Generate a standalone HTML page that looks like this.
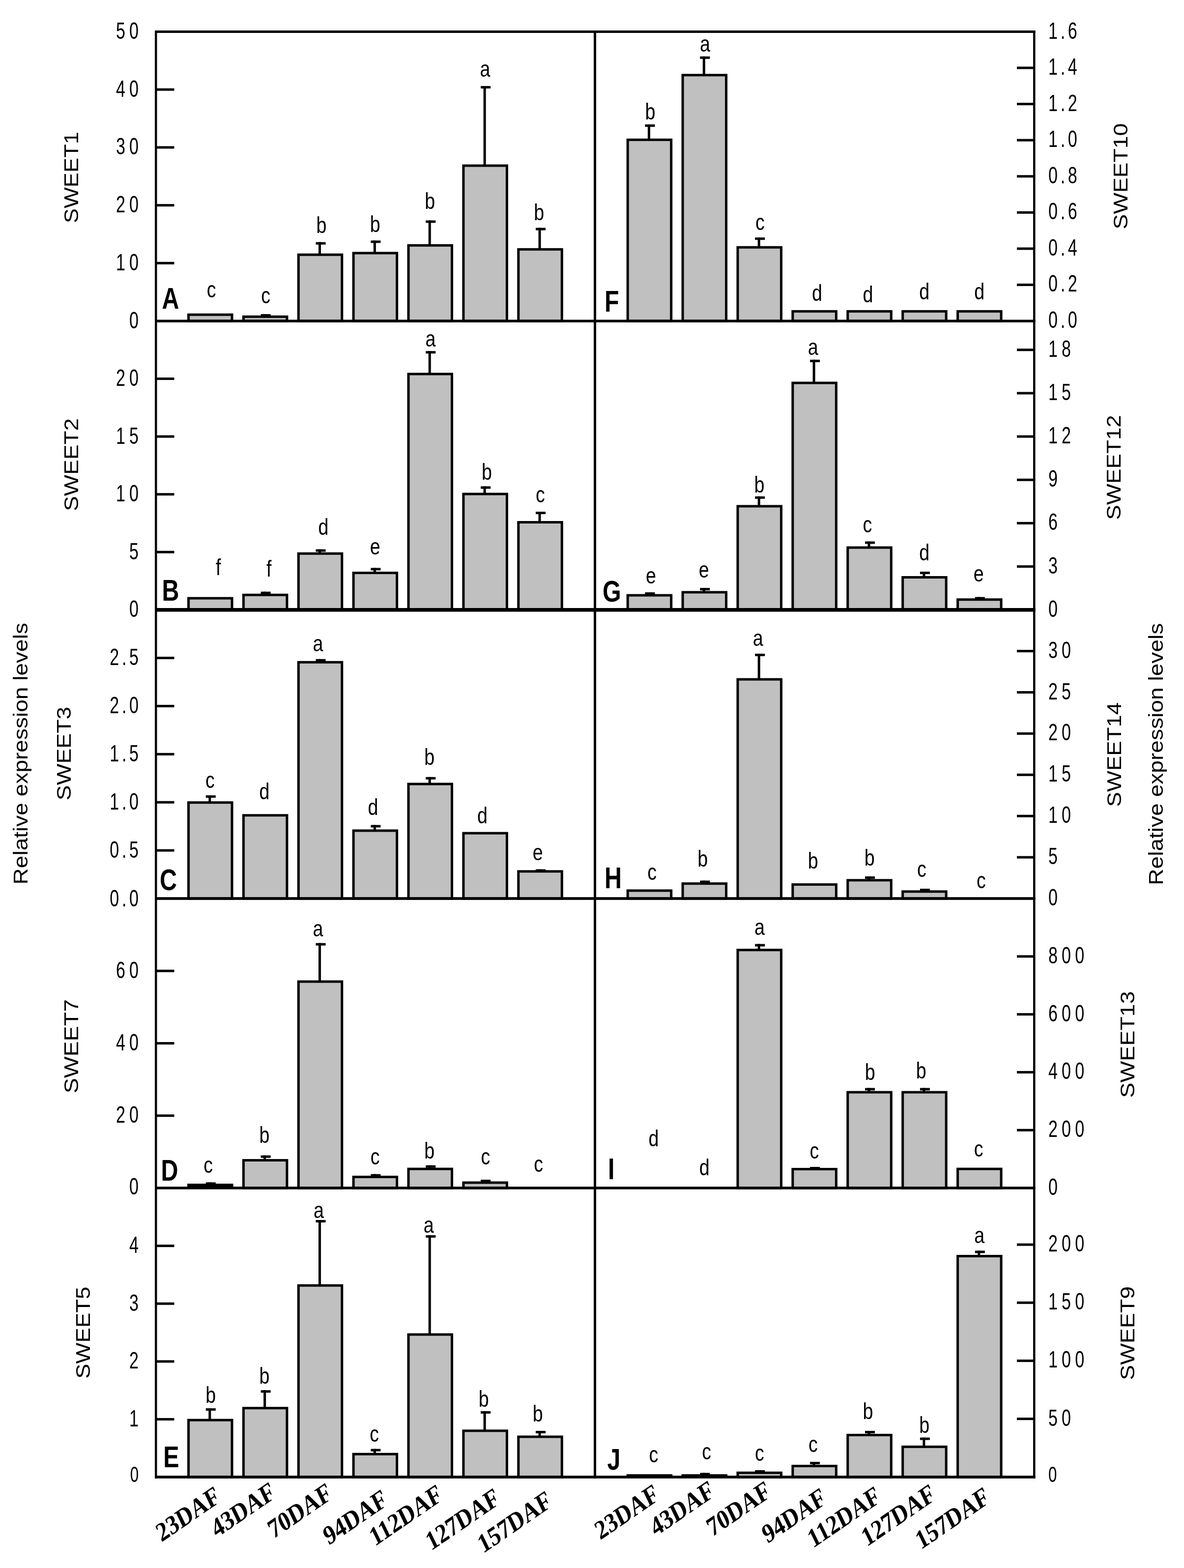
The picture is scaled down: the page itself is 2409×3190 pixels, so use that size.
<!DOCTYPE html>
<html><head><meta charset="utf-8"><title>SWEET expression</title>
<style>html,body{margin:0;padding:0;background:#fff;}svg{display:block;}</style>
</head><body>
<svg width="2409" height="3190" viewBox="0 0 2409 3190">
<rect width="100%" height="100%" fill="#fff"/>
<rect x="383.55" y="640.2" width="88.5" height="12.8" fill="#c0c0c0" stroke="#000" stroke-width="5"/>
<rect x="495.42" y="644.3" width="88.5" height="8.7" fill="#c0c0c0" stroke="#000" stroke-width="5"/>
<rect x="536.17" y="639" width="5" height="3.8" fill="#000"/>
<rect x="530.67" y="639" width="20" height="5" fill="#000"/>
<rect x="607.29" y="518.2" width="88.5" height="134.8" fill="#c0c0c0" stroke="#000" stroke-width="5"/>
<rect x="648.04" y="492.6" width="5" height="24.1" fill="#000"/>
<rect x="642.54" y="492.6" width="20" height="5" fill="#000"/>
<rect x="719.16" y="514.9" width="88.5" height="138.1" fill="#c0c0c0" stroke="#000" stroke-width="5"/>
<rect x="759.91" y="489.3" width="5" height="24.1" fill="#000"/>
<rect x="754.41" y="489.3" width="20" height="5" fill="#000"/>
<rect x="831.03" y="499.2" width="88.5" height="153.8" fill="#c0c0c0" stroke="#000" stroke-width="5"/>
<rect x="871.78" y="448.4" width="5" height="49.3" fill="#000"/>
<rect x="866.28" y="448.4" width="20" height="5" fill="#000"/>
<rect x="942.9" y="337" width="88.5" height="316" fill="#c0c0c0" stroke="#000" stroke-width="5"/>
<rect x="983.65" y="175" width="5" height="160.5" fill="#000"/>
<rect x="978.15" y="175" width="20" height="5" fill="#000"/>
<rect x="1054.77" y="507.3" width="88.5" height="145.7" fill="#c0c0c0" stroke="#000" stroke-width="5"/>
<rect x="1095.52" y="463.5" width="5" height="42.3" fill="#000"/>
<rect x="1090.02" y="463.5" width="20" height="5" fill="#000"/>
<rect x="383.55" y="1217.1" width="88.5" height="23.6" fill="#c0c0c0" stroke="#000" stroke-width="5"/>
<rect x="495.42" y="1210.3" width="88.5" height="30.4" fill="#c0c0c0" stroke="#000" stroke-width="5"/>
<rect x="536.17" y="1203.7" width="5" height="5.1" fill="#000"/>
<rect x="530.67" y="1203.7" width="20" height="5" fill="#000"/>
<rect x="607.29" y="1126.2" width="88.5" height="114.5" fill="#c0c0c0" stroke="#000" stroke-width="5"/>
<rect x="648.04" y="1117.5" width="5" height="7.2" fill="#000"/>
<rect x="642.54" y="1117.5" width="20" height="5" fill="#000"/>
<rect x="719.16" y="1165.5" width="88.5" height="75.2" fill="#c0c0c0" stroke="#000" stroke-width="5"/>
<rect x="759.91" y="1155.4" width="5" height="8.6" fill="#000"/>
<rect x="754.41" y="1155.4" width="20" height="5" fill="#000"/>
<rect x="831.03" y="760.9" width="88.5" height="479.8" fill="#c0c0c0" stroke="#000" stroke-width="5"/>
<rect x="871.78" y="714.2" width="5" height="45.2" fill="#000"/>
<rect x="866.28" y="714.2" width="20" height="5" fill="#000"/>
<rect x="942.9" y="1005" width="88.5" height="235.7" fill="#c0c0c0" stroke="#000" stroke-width="5"/>
<rect x="983.65" y="989.4" width="5" height="14.1" fill="#000"/>
<rect x="978.15" y="989.4" width="20" height="5" fill="#000"/>
<rect x="1054.77" y="1062.5" width="88.5" height="178.2" fill="#c0c0c0" stroke="#000" stroke-width="5"/>
<rect x="1095.52" y="1041" width="5" height="20" fill="#000"/>
<rect x="1090.02" y="1041" width="20" height="5" fill="#000"/>
<rect x="383.55" y="1632.7" width="88.5" height="195.3" fill="#c0c0c0" stroke="#000" stroke-width="5"/>
<rect x="424.3" y="1618" width="5" height="13.2" fill="#000"/>
<rect x="418.8" y="1618" width="20" height="5" fill="#000"/>
<rect x="495.42" y="1658.7" width="88.5" height="169.3" fill="#c0c0c0" stroke="#000" stroke-width="5"/>
<rect x="607.29" y="1347.3" width="88.5" height="480.7" fill="#c0c0c0" stroke="#000" stroke-width="5"/>
<rect x="648.04" y="1340.8" width="5" height="5" fill="#000"/>
<rect x="642.54" y="1340.8" width="20" height="5" fill="#000"/>
<rect x="719.16" y="1689.9" width="88.5" height="138.1" fill="#c0c0c0" stroke="#000" stroke-width="5"/>
<rect x="759.91" y="1678.4" width="5" height="10" fill="#000"/>
<rect x="754.41" y="1678.4" width="20" height="5" fill="#000"/>
<rect x="831.03" y="1595" width="88.5" height="233" fill="#c0c0c0" stroke="#000" stroke-width="5"/>
<rect x="871.78" y="1580.8" width="5" height="12.7" fill="#000"/>
<rect x="866.28" y="1580.8" width="20" height="5" fill="#000"/>
<rect x="942.9" y="1695.1" width="88.5" height="132.9" fill="#c0c0c0" stroke="#000" stroke-width="5"/>
<rect x="1054.77" y="1772.8" width="88.5" height="55.2" fill="#c0c0c0" stroke="#000" stroke-width="5"/>
<rect x="1095.52" y="1768.5" width="5" height="2.8" fill="#000"/>
<rect x="1090.02" y="1768.5" width="20" height="5" fill="#000"/>
<rect x="381.05" y="2408.1" width="93.5" height="10.9" fill="#000"/>
<rect x="424.3" y="2405.4" width="5" height="3.7" fill="#000"/>
<rect x="418.8" y="2405.4" width="20" height="5" fill="#000"/>
<rect x="495.42" y="2360.5" width="88.5" height="56.5" fill="#c0c0c0" stroke="#000" stroke-width="5"/>
<rect x="536.17" y="2350.6" width="5" height="8.4" fill="#000"/>
<rect x="530.67" y="2350.6" width="20" height="5" fill="#000"/>
<rect x="607.29" y="1997" width="88.5" height="420" fill="#c0c0c0" stroke="#000" stroke-width="5"/>
<rect x="648.04" y="1918.6" width="5" height="76.9" fill="#000"/>
<rect x="642.54" y="1918.6" width="20" height="5" fill="#000"/>
<rect x="719.16" y="2394.4" width="88.5" height="22.6" fill="#c0c0c0" stroke="#000" stroke-width="5"/>
<rect x="759.91" y="2388.6" width="5" height="4.3" fill="#000"/>
<rect x="754.41" y="2388.6" width="20" height="5" fill="#000"/>
<rect x="831.03" y="2378.1" width="88.5" height="38.9" fill="#c0c0c0" stroke="#000" stroke-width="5"/>
<rect x="871.78" y="2370.7" width="5" height="5.9" fill="#000"/>
<rect x="866.28" y="2370.7" width="20" height="5" fill="#000"/>
<rect x="942.9" y="2406" width="88.5" height="11" fill="#c0c0c0" stroke="#000" stroke-width="5"/>
<rect x="983.65" y="2400" width="5" height="4.5" fill="#000"/>
<rect x="978.15" y="2400" width="20" height="5" fill="#000"/>
<rect x="383.55" y="2889.1" width="88.5" height="115.9" fill="#c0c0c0" stroke="#000" stroke-width="5"/>
<rect x="424.3" y="2865" width="5" height="22.6" fill="#000"/>
<rect x="418.8" y="2865" width="20" height="5" fill="#000"/>
<rect x="495.42" y="2864.7" width="88.5" height="140.3" fill="#c0c0c0" stroke="#000" stroke-width="5"/>
<rect x="536.17" y="2828.3" width="5" height="34.9" fill="#000"/>
<rect x="530.67" y="2828.3" width="20" height="5" fill="#000"/>
<rect x="607.29" y="2615.2" width="88.5" height="389.8" fill="#c0c0c0" stroke="#000" stroke-width="5"/>
<rect x="648.04" y="2482" width="5" height="131.7" fill="#000"/>
<rect x="642.54" y="2482" width="20" height="5" fill="#000"/>
<rect x="719.16" y="2958.3" width="88.5" height="46.7" fill="#c0c0c0" stroke="#000" stroke-width="5"/>
<rect x="759.91" y="2947.7" width="5" height="9.1" fill="#000"/>
<rect x="754.41" y="2947.7" width="20" height="5" fill="#000"/>
<rect x="831.03" y="2715" width="88.5" height="290" fill="#c0c0c0" stroke="#000" stroke-width="5"/>
<rect x="871.78" y="2512.9" width="5" height="200.6" fill="#000"/>
<rect x="866.28" y="2512.9" width="20" height="5" fill="#000"/>
<rect x="942.9" y="2910.8" width="88.5" height="94.2" fill="#c0c0c0" stroke="#000" stroke-width="5"/>
<rect x="983.65" y="2870.9" width="5" height="38.4" fill="#000"/>
<rect x="978.15" y="2870.9" width="20" height="5" fill="#000"/>
<rect x="1054.77" y="2923" width="88.5" height="82" fill="#c0c0c0" stroke="#000" stroke-width="5"/>
<rect x="1095.52" y="2911" width="5" height="10.5" fill="#000"/>
<rect x="1090.02" y="2911" width="20" height="5" fill="#000"/>
<rect x="1277.15" y="284.4" width="88.5" height="368.6" fill="#c0c0c0" stroke="#000" stroke-width="5"/>
<rect x="1317.9" y="253.1" width="5" height="29.8" fill="#000"/>
<rect x="1312.4" y="253.1" width="20" height="5" fill="#000"/>
<rect x="1389.05" y="152.8" width="88.5" height="500.2" fill="#c0c0c0" stroke="#000" stroke-width="5"/>
<rect x="1429.8" y="114.8" width="5" height="36.5" fill="#000"/>
<rect x="1424.3" y="114.8" width="20" height="5" fill="#000"/>
<rect x="1500.95" y="503.2" width="88.5" height="149.8" fill="#c0c0c0" stroke="#000" stroke-width="5"/>
<rect x="1541.7" y="483.1" width="5" height="18.6" fill="#000"/>
<rect x="1536.2" y="483.1" width="20" height="5" fill="#000"/>
<rect x="1612.85" y="633.4" width="88.5" height="19.6" fill="#c0c0c0" stroke="#000" stroke-width="5"/>
<rect x="1724.75" y="633.4" width="88.5" height="19.6" fill="#c0c0c0" stroke="#000" stroke-width="5"/>
<rect x="1836.65" y="633.4" width="88.5" height="19.6" fill="#c0c0c0" stroke="#000" stroke-width="5"/>
<rect x="1948.55" y="633.4" width="88.5" height="19.6" fill="#c0c0c0" stroke="#000" stroke-width="5"/>
<rect x="1277.15" y="1211.1" width="88.5" height="29.6" fill="#c0c0c0" stroke="#000" stroke-width="5"/>
<rect x="1317.9" y="1205" width="5" height="4.6" fill="#000"/>
<rect x="1312.4" y="1205" width="20" height="5" fill="#000"/>
<rect x="1389.05" y="1204.9" width="88.5" height="35.8" fill="#c0c0c0" stroke="#000" stroke-width="5"/>
<rect x="1429.8" y="1196.1" width="5" height="7.3" fill="#000"/>
<rect x="1424.3" y="1196.1" width="20" height="5" fill="#000"/>
<rect x="1500.95" y="1029.9" width="88.5" height="210.8" fill="#c0c0c0" stroke="#000" stroke-width="5"/>
<rect x="1541.7" y="1009.8" width="5" height="18.6" fill="#000"/>
<rect x="1536.2" y="1009.8" width="20" height="5" fill="#000"/>
<rect x="1612.85" y="779" width="88.5" height="461.7" fill="#c0c0c0" stroke="#000" stroke-width="5"/>
<rect x="1653.6" y="731.8" width="5" height="45.7" fill="#000"/>
<rect x="1648.1" y="731.8" width="20" height="5" fill="#000"/>
<rect x="1724.75" y="1114" width="88.5" height="126.7" fill="#c0c0c0" stroke="#000" stroke-width="5"/>
<rect x="1765.5" y="1101.5" width="5" height="11" fill="#000"/>
<rect x="1760" y="1101.5" width="20" height="5" fill="#000"/>
<rect x="1836.65" y="1174.5" width="88.5" height="66.2" fill="#c0c0c0" stroke="#000" stroke-width="5"/>
<rect x="1877.4" y="1163" width="5" height="10" fill="#000"/>
<rect x="1871.9" y="1163" width="20" height="5" fill="#000"/>
<rect x="1948.55" y="1219.8" width="88.5" height="20.9" fill="#c0c0c0" stroke="#000" stroke-width="5"/>
<rect x="1989.3" y="1214.6" width="5" height="3.7" fill="#000"/>
<rect x="1983.8" y="1214.6" width="20" height="5" fill="#000"/>
<rect x="1277.15" y="1811.9" width="88.5" height="16.1" fill="#c0c0c0" stroke="#000" stroke-width="5"/>
<rect x="1389.05" y="1797.6" width="88.5" height="30.4" fill="#c0c0c0" stroke="#000" stroke-width="5"/>
<rect x="1429.8" y="1791.5" width="5" height="4.6" fill="#000"/>
<rect x="1424.3" y="1791.5" width="20" height="5" fill="#000"/>
<rect x="1500.95" y="1382.1" width="88.5" height="445.9" fill="#c0c0c0" stroke="#000" stroke-width="5"/>
<rect x="1541.7" y="1329.9" width="5" height="50.7" fill="#000"/>
<rect x="1536.2" y="1329.9" width="20" height="5" fill="#000"/>
<rect x="1612.85" y="1799.5" width="88.5" height="28.5" fill="#c0c0c0" stroke="#000" stroke-width="5"/>
<rect x="1724.75" y="1790.8" width="88.5" height="37.2" fill="#c0c0c0" stroke="#000" stroke-width="5"/>
<rect x="1765.5" y="1782.9" width="5" height="6.4" fill="#000"/>
<rect x="1760" y="1782.9" width="20" height="5" fill="#000"/>
<rect x="1836.65" y="1813.8" width="88.5" height="14.2" fill="#c0c0c0" stroke="#000" stroke-width="5"/>
<rect x="1877.4" y="1808" width="5" height="4.3" fill="#000"/>
<rect x="1871.9" y="1808" width="20" height="5" fill="#000"/>
<rect x="1500.95" y="1932.7" width="88.5" height="484.3" fill="#c0c0c0" stroke="#000" stroke-width="5"/>
<rect x="1541.7" y="1920.5" width="5" height="10.7" fill="#000"/>
<rect x="1536.2" y="1920.5" width="20" height="5" fill="#000"/>
<rect x="1612.85" y="2378.5" width="88.5" height="38.5" fill="#c0c0c0" stroke="#000" stroke-width="5"/>
<rect x="1653.6" y="2374" width="5" height="3" fill="#000"/>
<rect x="1648.1" y="2374" width="20" height="5" fill="#000"/>
<rect x="1724.75" y="2222.1" width="88.5" height="194.9" fill="#c0c0c0" stroke="#000" stroke-width="5"/>
<rect x="1765.5" y="2213.4" width="5" height="7.2" fill="#000"/>
<rect x="1760" y="2213.4" width="20" height="5" fill="#000"/>
<rect x="1836.65" y="2222.1" width="88.5" height="194.9" fill="#c0c0c0" stroke="#000" stroke-width="5"/>
<rect x="1877.4" y="2213.4" width="5" height="7.2" fill="#000"/>
<rect x="1871.9" y="2213.4" width="20" height="5" fill="#000"/>
<rect x="1948.55" y="2378.1" width="88.5" height="38.9" fill="#c0c0c0" stroke="#000" stroke-width="5"/>
<rect x="1274.65" y="2999.2" width="93.5" height="7.8" fill="#000"/>
<rect x="1386.55" y="2999.2" width="93.5" height="7.8" fill="#000"/>
<rect x="1429.8" y="2996.5" width="5" height="3.7" fill="#000"/>
<rect x="1424.3" y="2996.5" width="20" height="5" fill="#000"/>
<rect x="1500.95" y="2996.3" width="88.5" height="8.7" fill="#c0c0c0" stroke="#000" stroke-width="5"/>
<rect x="1541.7" y="2991" width="5" height="3.8" fill="#000"/>
<rect x="1536.2" y="2991" width="20" height="5" fill="#000"/>
<rect x="1612.85" y="2982.5" width="88.5" height="22.5" fill="#c0c0c0" stroke="#000" stroke-width="5"/>
<rect x="1653.6" y="2974" width="5" height="7" fill="#000"/>
<rect x="1648.1" y="2974" width="20" height="5" fill="#000"/>
<rect x="1724.75" y="2919.5" width="88.5" height="85.5" fill="#c0c0c0" stroke="#000" stroke-width="5"/>
<rect x="1765.5" y="2911" width="5" height="7" fill="#000"/>
<rect x="1760" y="2911" width="20" height="5" fill="#000"/>
<rect x="1836.65" y="2943.4" width="88.5" height="61.6" fill="#c0c0c0" stroke="#000" stroke-width="5"/>
<rect x="1877.4" y="2924.6" width="5" height="17.3" fill="#000"/>
<rect x="1871.9" y="2924.6" width="20" height="5" fill="#000"/>
<rect x="1948.55" y="2555.5" width="88.5" height="449.5" fill="#c0c0c0" stroke="#000" stroke-width="5"/>
<rect x="1989.3" y="2544.4" width="5" height="9.6" fill="#000"/>
<rect x="1983.8" y="2544.4" width="20" height="5" fill="#000"/>
<rect x="315" y="62" width="1791.5" height="5" fill="#000"/>
<rect x="315" y="650.5" width="1791.5" height="5.3" fill="#000"/>
<rect x="315" y="1237" width="1791.5" height="7.5" fill="#000"/>
<rect x="315" y="1825.2" width="1791.5" height="5.6" fill="#000"/>
<rect x="315" y="2414.2" width="1791.5" height="5.4" fill="#000"/>
<rect x="315" y="3002.2" width="1791.5" height="5.6" fill="#000"/>
<rect x="315" y="62" width="4.5" height="2945.8" fill="#000"/>
<rect x="1208" y="62" width="5" height="2945.8" fill="#000"/>
<rect x="2102" y="62" width="4.5" height="2945.8" fill="#000"/>
<text transform="matrix(0.71 0 0 1 290.17 667.5)" font-size="48" text-anchor="end" font-weight="normal" font-family='"Liberation Sans", Arial, sans-serif' letter-spacing="11.5">0</text>
<rect x="317" y="532.8" width="37.5" height="5" fill="#000"/>
<text transform="matrix(0.71 0 0 1 290.17 549.8)" font-size="48" text-anchor="end" font-weight="normal" font-family='"Liberation Sans", Arial, sans-serif' letter-spacing="11.5">10</text>
<rect x="317" y="415.1" width="37.5" height="5" fill="#000"/>
<text transform="matrix(0.71 0 0 1 290.17 432.1)" font-size="48" text-anchor="end" font-weight="normal" font-family='"Liberation Sans", Arial, sans-serif' letter-spacing="11.5">20</text>
<rect x="317" y="297.4" width="37.5" height="5" fill="#000"/>
<text transform="matrix(0.71 0 0 1 290.17 314.4)" font-size="48" text-anchor="end" font-weight="normal" font-family='"Liberation Sans", Arial, sans-serif' letter-spacing="11.5">30</text>
<rect x="317" y="179.7" width="37.5" height="5" fill="#000"/>
<text transform="matrix(0.71 0 0 1 290.17 196.7)" font-size="48" text-anchor="end" font-weight="normal" font-family='"Liberation Sans", Arial, sans-serif' letter-spacing="11.5">40</text>
<text transform="matrix(0.71 0 0 1 290.17 79)" font-size="48" text-anchor="end" font-weight="normal" font-family='"Liberation Sans", Arial, sans-serif' letter-spacing="11.5">50</text>
<text transform="matrix(0.71 0 0 1 290.17 1255.2)" font-size="48" text-anchor="end" font-weight="normal" font-family='"Liberation Sans", Arial, sans-serif' letter-spacing="11.5">0</text>
<rect x="317" y="1120.66" width="37.5" height="5" fill="#000"/>
<text transform="matrix(0.71 0 0 1 290.17 1137.66)" font-size="48" text-anchor="end" font-weight="normal" font-family='"Liberation Sans", Arial, sans-serif' letter-spacing="11.5">5</text>
<rect x="317" y="1003.12" width="37.5" height="5" fill="#000"/>
<text transform="matrix(0.71 0 0 1 290.17 1020.12)" font-size="48" text-anchor="end" font-weight="normal" font-family='"Liberation Sans", Arial, sans-serif' letter-spacing="11.5">10</text>
<rect x="317" y="885.58" width="37.5" height="5" fill="#000"/>
<text transform="matrix(0.71 0 0 1 290.17 902.58)" font-size="48" text-anchor="end" font-weight="normal" font-family='"Liberation Sans", Arial, sans-serif' letter-spacing="11.5">15</text>
<rect x="317" y="768.04" width="37.5" height="5" fill="#000"/>
<text transform="matrix(0.71 0 0 1 290.17 785.04)" font-size="48" text-anchor="end" font-weight="normal" font-family='"Liberation Sans", Arial, sans-serif' letter-spacing="11.5">20</text>
<text transform="matrix(0.71 0 0 1 287.68 1844)" font-size="48" text-anchor="end" font-weight="normal" font-family='"Liberation Sans", Arial, sans-serif' letter-spacing="8">0.0</text>
<rect x="317" y="1727.62" width="37.5" height="5" fill="#000"/>
<text transform="matrix(0.71 0 0 1 287.68 1744.62)" font-size="48" text-anchor="end" font-weight="normal" font-family='"Liberation Sans", Arial, sans-serif' letter-spacing="8">0.5</text>
<rect x="317" y="1629.73" width="37.5" height="5" fill="#000"/>
<text transform="matrix(0.71 0 0 1 287.68 1646.73)" font-size="48" text-anchor="end" font-weight="normal" font-family='"Liberation Sans", Arial, sans-serif' letter-spacing="8">1.0</text>
<rect x="317" y="1531.85" width="37.5" height="5" fill="#000"/>
<text transform="matrix(0.71 0 0 1 287.68 1548.85)" font-size="48" text-anchor="end" font-weight="normal" font-family='"Liberation Sans", Arial, sans-serif' letter-spacing="8">1.5</text>
<rect x="317" y="1433.97" width="37.5" height="5" fill="#000"/>
<text transform="matrix(0.71 0 0 1 287.68 1450.97)" font-size="48" text-anchor="end" font-weight="normal" font-family='"Liberation Sans", Arial, sans-serif' letter-spacing="8">2.0</text>
<rect x="317" y="1336.08" width="37.5" height="5" fill="#000"/>
<text transform="matrix(0.71 0 0 1 287.68 1353.08)" font-size="48" text-anchor="end" font-weight="normal" font-family='"Liberation Sans", Arial, sans-serif' letter-spacing="8">2.5</text>
<text transform="matrix(0.71 0 0 1 290.17 2429.5)" font-size="48" text-anchor="end" font-weight="normal" font-family='"Liberation Sans", Arial, sans-serif' letter-spacing="11.5">0</text>
<rect x="317" y="2267.25" width="37.5" height="5" fill="#000"/>
<text transform="matrix(0.71 0 0 1 290.17 2284.25)" font-size="48" text-anchor="end" font-weight="normal" font-family='"Liberation Sans", Arial, sans-serif' letter-spacing="11.5">20</text>
<rect x="317" y="2120" width="37.5" height="5" fill="#000"/>
<text transform="matrix(0.71 0 0 1 290.17 2137)" font-size="48" text-anchor="end" font-weight="normal" font-family='"Liberation Sans", Arial, sans-serif' letter-spacing="11.5">40</text>
<rect x="317" y="1972.75" width="37.5" height="5" fill="#000"/>
<text transform="matrix(0.71 0 0 1 290.17 1989.75)" font-size="48" text-anchor="end" font-weight="normal" font-family='"Liberation Sans", Arial, sans-serif' letter-spacing="11.5">60</text>
<text transform="matrix(0.71 0 0 1 290.17 3015.3)" font-size="44" text-anchor="end" font-weight="normal" font-family='"Liberation Sans", Arial, sans-serif' letter-spacing="11.5">0</text>
<rect x="317" y="2884.9" width="37.5" height="5" fill="#000"/>
<text transform="matrix(0.71 0 0 1 290.17 2901.9)" font-size="48" text-anchor="end" font-weight="normal" font-family='"Liberation Sans", Arial, sans-serif' letter-spacing="11.5">1</text>
<rect x="317" y="2767.3" width="37.5" height="5" fill="#000"/>
<text transform="matrix(0.71 0 0 1 290.17 2784.3)" font-size="48" text-anchor="end" font-weight="normal" font-family='"Liberation Sans", Arial, sans-serif' letter-spacing="11.5">2</text>
<rect x="317" y="2649.7" width="37.5" height="5" fill="#000"/>
<text transform="matrix(0.71 0 0 1 290.17 2666.7)" font-size="48" text-anchor="end" font-weight="normal" font-family='"Liberation Sans", Arial, sans-serif' letter-spacing="11.5">3</text>
<rect x="317" y="2532.1" width="37.5" height="5" fill="#000"/>
<text transform="matrix(0.71 0 0 1 290.17 2549.1)" font-size="48" text-anchor="end" font-weight="normal" font-family='"Liberation Sans", Arial, sans-serif' letter-spacing="11.5">4</text>
<text transform="matrix(0.71 0 0 1 2133 667)" font-size="48" text-anchor="start" font-weight="normal" font-family='"Liberation Sans", Arial, sans-serif' letter-spacing="8">0.0</text>
<rect x="2069" y="576.94" width="35.3" height="5" fill="#000"/>
<text transform="matrix(0.71 0 0 1 2133 593.44)" font-size="48" text-anchor="start" font-weight="normal" font-family='"Liberation Sans", Arial, sans-serif' letter-spacing="8">0.2</text>
<rect x="2069" y="503.38" width="35.3" height="5" fill="#000"/>
<text transform="matrix(0.71 0 0 1 2133 519.88)" font-size="48" text-anchor="start" font-weight="normal" font-family='"Liberation Sans", Arial, sans-serif' letter-spacing="8">0.4</text>
<rect x="2069" y="429.81" width="35.3" height="5" fill="#000"/>
<text transform="matrix(0.71 0 0 1 2133 446.31)" font-size="48" text-anchor="start" font-weight="normal" font-family='"Liberation Sans", Arial, sans-serif' letter-spacing="8">0.6</text>
<rect x="2069" y="356.25" width="35.3" height="5" fill="#000"/>
<text transform="matrix(0.71 0 0 1 2133 372.75)" font-size="48" text-anchor="start" font-weight="normal" font-family='"Liberation Sans", Arial, sans-serif' letter-spacing="8">0.8</text>
<rect x="2069" y="282.69" width="35.3" height="5" fill="#000"/>
<text transform="matrix(0.71 0 0 1 2133 299.19)" font-size="48" text-anchor="start" font-weight="normal" font-family='"Liberation Sans", Arial, sans-serif' letter-spacing="8">1.0</text>
<rect x="2069" y="209.13" width="35.3" height="5" fill="#000"/>
<text transform="matrix(0.71 0 0 1 2133 225.63)" font-size="48" text-anchor="start" font-weight="normal" font-family='"Liberation Sans", Arial, sans-serif' letter-spacing="8">1.2</text>
<rect x="2069" y="135.56" width="35.3" height="5" fill="#000"/>
<text transform="matrix(0.71 0 0 1 2133 152.06)" font-size="48" text-anchor="start" font-weight="normal" font-family='"Liberation Sans", Arial, sans-serif' letter-spacing="8">1.4</text>
<text transform="matrix(0.71 0 0 1 2133 78.5)" font-size="48" text-anchor="start" font-weight="normal" font-family='"Liberation Sans", Arial, sans-serif' letter-spacing="8">1.6</text>
<text transform="matrix(0.71 0 0 1 2133 1254.7)" font-size="48" text-anchor="start" font-weight="normal" font-family='"Liberation Sans", Arial, sans-serif' letter-spacing="11.5">0</text>
<rect x="2069" y="1150.05" width="35.3" height="5" fill="#000"/>
<text transform="matrix(0.71 0 0 1 2133 1166.55)" font-size="48" text-anchor="start" font-weight="normal" font-family='"Liberation Sans", Arial, sans-serif' letter-spacing="11.5">3</text>
<rect x="2069" y="1061.89" width="35.3" height="5" fill="#000"/>
<text transform="matrix(0.71 0 0 1 2133 1078.39)" font-size="48" text-anchor="start" font-weight="normal" font-family='"Liberation Sans", Arial, sans-serif' letter-spacing="11.5">6</text>
<rect x="2069" y="973.74" width="35.3" height="5" fill="#000"/>
<text transform="matrix(0.71 0 0 1 2133 990.24)" font-size="48" text-anchor="start" font-weight="normal" font-family='"Liberation Sans", Arial, sans-serif' letter-spacing="11.5">9</text>
<rect x="2069" y="885.58" width="35.3" height="5" fill="#000"/>
<text transform="matrix(0.71 0 0 1 2133 902.08)" font-size="48" text-anchor="start" font-weight="normal" font-family='"Liberation Sans", Arial, sans-serif' letter-spacing="11.5">12</text>
<rect x="2069" y="797.43" width="35.3" height="5" fill="#000"/>
<text transform="matrix(0.71 0 0 1 2133 813.93)" font-size="48" text-anchor="start" font-weight="normal" font-family='"Liberation Sans", Arial, sans-serif' letter-spacing="11.5">15</text>
<rect x="2069" y="709.27" width="35.3" height="5" fill="#000"/>
<text transform="matrix(0.71 0 0 1 2133 725.77)" font-size="48" text-anchor="start" font-weight="normal" font-family='"Liberation Sans", Arial, sans-serif' letter-spacing="11.5">18</text>
<text transform="matrix(0.71 0 0 1 2133 1842)" font-size="48" text-anchor="start" font-weight="normal" font-family='"Liberation Sans", Arial, sans-serif' letter-spacing="11.5">0</text>
<rect x="2069" y="1741.6" width="35.3" height="5" fill="#000"/>
<text transform="matrix(0.71 0 0 1 2133 1758.1)" font-size="48" text-anchor="start" font-weight="normal" font-family='"Liberation Sans", Arial, sans-serif' letter-spacing="11.5">5</text>
<rect x="2069" y="1657.7" width="35.3" height="5" fill="#000"/>
<text transform="matrix(0.71 0 0 1 2133 1674.2)" font-size="48" text-anchor="start" font-weight="normal" font-family='"Liberation Sans", Arial, sans-serif' letter-spacing="11.5">10</text>
<rect x="2069" y="1573.8" width="35.3" height="5" fill="#000"/>
<text transform="matrix(0.71 0 0 1 2133 1590.3)" font-size="48" text-anchor="start" font-weight="normal" font-family='"Liberation Sans", Arial, sans-serif' letter-spacing="11.5">15</text>
<rect x="2069" y="1489.9" width="35.3" height="5" fill="#000"/>
<text transform="matrix(0.71 0 0 1 2133 1506.4)" font-size="48" text-anchor="start" font-weight="normal" font-family='"Liberation Sans", Arial, sans-serif' letter-spacing="11.5">20</text>
<rect x="2069" y="1406" width="35.3" height="5" fill="#000"/>
<text transform="matrix(0.71 0 0 1 2133 1422.5)" font-size="48" text-anchor="start" font-weight="normal" font-family='"Liberation Sans", Arial, sans-serif' letter-spacing="11.5">25</text>
<rect x="2069" y="1322.1" width="35.3" height="5" fill="#000"/>
<text transform="matrix(0.71 0 0 1 2133 1338.6)" font-size="48" text-anchor="start" font-weight="normal" font-family='"Liberation Sans", Arial, sans-serif' letter-spacing="11.5">30</text>
<text transform="matrix(0.71 0 0 1 2133 2431)" font-size="48" text-anchor="start" font-weight="normal" font-family='"Liberation Sans", Arial, sans-serif' letter-spacing="11.5">0</text>
<rect x="2069" y="2296.7" width="35.3" height="5" fill="#000"/>
<text transform="matrix(0.71 0 0 1 2133 2313.2)" font-size="48" text-anchor="start" font-weight="normal" font-family='"Liberation Sans", Arial, sans-serif' letter-spacing="11.5">200</text>
<rect x="2069" y="2178.9" width="35.3" height="5" fill="#000"/>
<text transform="matrix(0.71 0 0 1 2133 2195.4)" font-size="48" text-anchor="start" font-weight="normal" font-family='"Liberation Sans", Arial, sans-serif' letter-spacing="11.5">400</text>
<rect x="2069" y="2061.1" width="35.3" height="5" fill="#000"/>
<text transform="matrix(0.71 0 0 1 2133 2077.6)" font-size="48" text-anchor="start" font-weight="normal" font-family='"Liberation Sans", Arial, sans-serif' letter-spacing="11.5">600</text>
<rect x="2069" y="1943.3" width="35.3" height="5" fill="#000"/>
<text transform="matrix(0.71 0 0 1 2133 1959.8)" font-size="48" text-anchor="start" font-weight="normal" font-family='"Liberation Sans", Arial, sans-serif' letter-spacing="11.5">800</text>
<text transform="matrix(0.71 0 0 1 2133 3015.3)" font-size="44" text-anchor="start" font-weight="normal" font-family='"Liberation Sans", Arial, sans-serif' letter-spacing="11.5">0</text>
<rect x="2069" y="2884.06" width="35.3" height="5" fill="#000"/>
<text transform="matrix(0.71 0 0 1 2133 2900.56)" font-size="48" text-anchor="start" font-weight="normal" font-family='"Liberation Sans", Arial, sans-serif' letter-spacing="11.5">50</text>
<rect x="2069" y="2765.92" width="35.3" height="5" fill="#000"/>
<text transform="matrix(0.71 0 0 1 2133 2782.42)" font-size="48" text-anchor="start" font-weight="normal" font-family='"Liberation Sans", Arial, sans-serif' letter-spacing="11.5">100</text>
<rect x="2069" y="2647.78" width="35.3" height="5" fill="#000"/>
<text transform="matrix(0.71 0 0 1 2133 2664.28)" font-size="48" text-anchor="start" font-weight="normal" font-family='"Liberation Sans", Arial, sans-serif' letter-spacing="11.5">150</text>
<rect x="2069" y="2529.64" width="35.3" height="5" fill="#000"/>
<text transform="matrix(0.71 0 0 1 2133 2546.14)" font-size="48" text-anchor="start" font-weight="normal" font-family='"Liberation Sans", Arial, sans-serif' letter-spacing="11.5">200</text>
<text transform="matrix(0.8 0 0 1 430.2 605.2)" font-size="47" text-anchor="middle" font-weight="normal" font-family='"Liberation Sans", Arial, sans-serif'>c</text>
<text transform="matrix(0.8 0 0 1 540.57 617.4)" font-size="47" text-anchor="middle" font-weight="normal" font-family='"Liberation Sans", Arial, sans-serif'>c</text>
<text transform="matrix(0.8 0 0 1 653.84 473.6)" font-size="47" text-anchor="middle" font-weight="normal" font-family='"Liberation Sans", Arial, sans-serif'>b</text>
<text transform="matrix(0.8 0 0 1 763.21 472.3)" font-size="47" text-anchor="middle" font-weight="normal" font-family='"Liberation Sans", Arial, sans-serif'>b</text>
<text transform="matrix(0.8 0 0 1 874.78 424.8)" font-size="47" text-anchor="middle" font-weight="normal" font-family='"Liberation Sans", Arial, sans-serif'>b</text>
<text transform="matrix(0.8 0 0 1 986.85 156.3)" font-size="47" text-anchor="middle" font-weight="normal" font-family='"Liberation Sans", Arial, sans-serif'>a</text>
<text transform="matrix(0.8 0 0 1 1096.82 447.8)" font-size="47" text-anchor="middle" font-weight="normal" font-family='"Liberation Sans", Arial, sans-serif'>b</text>
<text transform="matrix(0.8 0 0 1 444.3 1169.8)" font-size="47" text-anchor="middle" font-weight="normal" font-family='"Liberation Sans", Arial, sans-serif'>f</text>
<text transform="matrix(0.8 0 0 1 547.17 1172.5)" font-size="47" text-anchor="middle" font-weight="normal" font-family='"Liberation Sans", Arial, sans-serif'>f</text>
<text transform="matrix(0.8 0 0 1 658.04 1088.4)" font-size="47" text-anchor="middle" font-weight="normal" font-family='"Liberation Sans", Arial, sans-serif'>d</text>
<text transform="matrix(0.8 0 0 1 763.21 1127.8)" font-size="47" text-anchor="middle" font-weight="normal" font-family='"Liberation Sans", Arial, sans-serif'>e</text>
<text transform="matrix(0.8 0 0 1 875.88 704.7)" font-size="47" text-anchor="middle" font-weight="normal" font-family='"Liberation Sans", Arial, sans-serif'>a</text>
<text transform="matrix(0.8 0 0 1 990.55 975.9)" font-size="47" text-anchor="middle" font-weight="normal" font-family='"Liberation Sans", Arial, sans-serif'>b</text>
<text transform="matrix(0.8 0 0 1 1099.52 1022)" font-size="47" text-anchor="middle" font-weight="normal" font-family='"Liberation Sans", Arial, sans-serif'>c</text>
<text transform="matrix(0.8 0 0 1 427.5 1602.5)" font-size="47" text-anchor="middle" font-weight="normal" font-family='"Liberation Sans", Arial, sans-serif'>c</text>
<text transform="matrix(0.8 0 0 1 537.97 1625.6)" font-size="47" text-anchor="middle" font-weight="normal" font-family='"Liberation Sans", Arial, sans-serif'>d</text>
<text transform="matrix(0.8 0 0 1 646.84 1325.3)" font-size="47" text-anchor="middle" font-weight="normal" font-family='"Liberation Sans", Arial, sans-serif'>a</text>
<text transform="matrix(0.8 0 0 1 758.91 1658.1)" font-size="47" text-anchor="middle" font-weight="normal" font-family='"Liberation Sans", Arial, sans-serif'>d</text>
<text transform="matrix(0.8 0 0 1 873.68 1556.4)" font-size="47" text-anchor="middle" font-weight="normal" font-family='"Liberation Sans", Arial, sans-serif'>b</text>
<text transform="matrix(0.8 0 0 1 981.45 1674.6)" font-size="47" text-anchor="middle" font-weight="normal" font-family='"Liberation Sans", Arial, sans-serif'>d</text>
<text transform="matrix(0.8 0 0 1 1094.12 1749.7)" font-size="47" text-anchor="middle" font-weight="normal" font-family='"Liberation Sans", Arial, sans-serif'>e</text>
<text transform="matrix(0.8 0 0 1 423.7 2386.4)" font-size="47" text-anchor="middle" font-weight="normal" font-family='"Liberation Sans", Arial, sans-serif'>c</text>
<text transform="matrix(0.8 0 0 1 537.97 2325.4)" font-size="47" text-anchor="middle" font-weight="normal" font-family='"Liberation Sans", Arial, sans-serif'>b</text>
<text transform="matrix(0.8 0 0 1 646.84 1905)" font-size="47" text-anchor="middle" font-weight="normal" font-family='"Liberation Sans", Arial, sans-serif'>a</text>
<text transform="matrix(0.8 0 0 1 763.21 2368.8)" font-size="47" text-anchor="middle" font-weight="normal" font-family='"Liberation Sans", Arial, sans-serif'>c</text>
<text transform="matrix(0.8 0 0 1 873.68 2356.6)" font-size="47" text-anchor="middle" font-weight="normal" font-family='"Liberation Sans", Arial, sans-serif'>b</text>
<text transform="matrix(0.8 0 0 1 987.85 2368.8)" font-size="47" text-anchor="middle" font-weight="normal" font-family='"Liberation Sans", Arial, sans-serif'>c</text>
<text transform="matrix(0.8 0 0 1 1095.72 2383.7)" font-size="47" text-anchor="middle" font-weight="normal" font-family='"Liberation Sans", Arial, sans-serif'>c</text>
<text transform="matrix(0.8 0 0 1 428.6 2854)" font-size="47" text-anchor="middle" font-weight="normal" font-family='"Liberation Sans", Arial, sans-serif'>b</text>
<text transform="matrix(0.8 0 0 1 537.97 2814.8)" font-size="47" text-anchor="middle" font-weight="normal" font-family='"Liberation Sans", Arial, sans-serif'>b</text>
<text transform="matrix(0.8 0 0 1 648.44 2477.6)" font-size="47" text-anchor="middle" font-weight="normal" font-family='"Liberation Sans", Arial, sans-serif'>a</text>
<text transform="matrix(0.8 0 0 1 761.61 2932.7)" font-size="47" text-anchor="middle" font-weight="normal" font-family='"Liberation Sans", Arial, sans-serif'>c</text>
<text transform="matrix(0.8 0 0 1 872.08 2508.3)" font-size="47" text-anchor="middle" font-weight="normal" font-family='"Liberation Sans", Arial, sans-serif'>a</text>
<text transform="matrix(0.8 0 0 1 984.15 2862.2)" font-size="47" text-anchor="middle" font-weight="normal" font-family='"Liberation Sans", Arial, sans-serif'>b</text>
<text transform="matrix(0.8 0 0 1 1094.12 2892)" font-size="47" text-anchor="middle" font-weight="normal" font-family='"Liberation Sans", Arial, sans-serif'>b</text>
<text transform="matrix(0.8 0 0 1 1322.9 243.1)" font-size="47" text-anchor="middle" font-weight="normal" font-family='"Liberation Sans", Arial, sans-serif'>b</text>
<text transform="matrix(0.8 0 0 1 1434.4 104.8)" font-size="47" text-anchor="middle" font-weight="normal" font-family='"Liberation Sans", Arial, sans-serif'>a</text>
<text transform="matrix(0.8 0 0 1 1546.5 468.2)" font-size="47" text-anchor="middle" font-weight="normal" font-family='"Liberation Sans", Arial, sans-serif'>c</text>
<text transform="matrix(0.8 0 0 1 1662.4 612)" font-size="47" text-anchor="middle" font-weight="normal" font-family='"Liberation Sans", Arial, sans-serif'>d</text>
<text transform="matrix(0.8 0 0 1 1765.9 614.7)" font-size="47" text-anchor="middle" font-weight="normal" font-family='"Liberation Sans", Arial, sans-serif'>d</text>
<text transform="matrix(0.8 0 0 1 1880.6 609.2)" font-size="47" text-anchor="middle" font-weight="normal" font-family='"Liberation Sans", Arial, sans-serif'>d</text>
<text transform="matrix(0.8 0 0 1 1992.7 609.2)" font-size="47" text-anchor="middle" font-weight="normal" font-family='"Liberation Sans", Arial, sans-serif'>d</text>
<text transform="matrix(0.8 0 0 1 1324.5 1187.4)" font-size="47" text-anchor="middle" font-weight="normal" font-family='"Liberation Sans", Arial, sans-serif'>e</text>
<text transform="matrix(0.8 0 0 1 1432.3 1175.2)" font-size="47" text-anchor="middle" font-weight="normal" font-family='"Liberation Sans", Arial, sans-serif'>e</text>
<text transform="matrix(0.8 0 0 1 1544.9 1001.7)" font-size="47" text-anchor="middle" font-weight="normal" font-family='"Liberation Sans", Arial, sans-serif'>b</text>
<text transform="matrix(0.8 0 0 1 1654.3 722.3)" font-size="47" text-anchor="middle" font-weight="normal" font-family='"Liberation Sans", Arial, sans-serif'>a</text>
<text transform="matrix(0.8 0 0 1 1764.8 1083)" font-size="47" text-anchor="middle" font-weight="normal" font-family='"Liberation Sans", Arial, sans-serif'>c</text>
<text transform="matrix(0.8 0 0 1 1880.6 1140)" font-size="47" text-anchor="middle" font-weight="normal" font-family='"Liberation Sans", Arial, sans-serif'>d</text>
<text transform="matrix(0.8 0 0 1 1991.1 1183.4)" font-size="47" text-anchor="middle" font-weight="normal" font-family='"Liberation Sans", Arial, sans-serif'>e</text>
<text transform="matrix(0.8 0 0 1 1326.6 1789.7)" font-size="47" text-anchor="middle" font-weight="normal" font-family='"Liberation Sans", Arial, sans-serif'>c</text>
<text transform="matrix(0.8 0 0 1 1429.6 1762.5)" font-size="47" text-anchor="middle" font-weight="normal" font-family='"Liberation Sans", Arial, sans-serif'>b</text>
<text transform="matrix(0.8 0 0 1 1542.2 1313.7)" font-size="47" text-anchor="middle" font-weight="normal" font-family='"Liberation Sans", Arial, sans-serif'>a</text>
<text transform="matrix(0.8 0 0 1 1654.3 1766.6)" font-size="47" text-anchor="middle" font-weight="normal" font-family='"Liberation Sans", Arial, sans-serif'>b</text>
<text transform="matrix(0.8 0 0 1 1769.1 1761.2)" font-size="47" text-anchor="middle" font-weight="normal" font-family='"Liberation Sans", Arial, sans-serif'>b</text>
<text transform="matrix(0.8 0 0 1 1875.3 1784.2)" font-size="47" text-anchor="middle" font-weight="normal" font-family='"Liberation Sans", Arial, sans-serif'>c</text>
<text transform="matrix(0.8 0 0 1 1996.5 1807.3)" font-size="47" text-anchor="middle" font-weight="normal" font-family='"Liberation Sans", Arial, sans-serif'>c</text>
<text transform="matrix(0.8 0 0 1 1329.9 2332.2)" font-size="47" text-anchor="middle" font-weight="normal" font-family='"Liberation Sans", Arial, sans-serif'>d</text>
<text transform="matrix(0.8 0 0 1 1433.3 2390.5)" font-size="47" text-anchor="middle" font-weight="normal" font-family='"Liberation Sans", Arial, sans-serif'>d</text>
<text transform="matrix(0.8 0 0 1 1545.4 1902.3)" font-size="47" text-anchor="middle" font-weight="normal" font-family='"Liberation Sans", Arial, sans-serif'>a</text>
<text transform="matrix(0.8 0 0 1 1657 2356.6)" font-size="47" text-anchor="middle" font-weight="normal" font-family='"Liberation Sans", Arial, sans-serif'>c</text>
<text transform="matrix(0.8 0 0 1 1770.2 2196.6)" font-size="47" text-anchor="middle" font-weight="normal" font-family='"Liberation Sans", Arial, sans-serif'>b</text>
<text transform="matrix(0.8 0 0 1 1874.2 2194.4)" font-size="47" text-anchor="middle" font-weight="normal" font-family='"Liberation Sans", Arial, sans-serif'>b</text>
<text transform="matrix(0.8 0 0 1 1991.1 2352.5)" font-size="47" text-anchor="middle" font-weight="normal" font-family='"Liberation Sans", Arial, sans-serif'>c</text>
<text transform="matrix(0.8 0 0 1 1329.9 2974.8)" font-size="47" text-anchor="middle" font-weight="normal" font-family='"Liberation Sans", Arial, sans-serif'>c</text>
<text transform="matrix(0.8 0 0 1 1437.7 2969.4)" font-size="47" text-anchor="middle" font-weight="normal" font-family='"Liberation Sans", Arial, sans-serif'>c</text>
<text transform="matrix(0.8 0 0 1 1545.4 2972)" font-size="47" text-anchor="middle" font-weight="normal" font-family='"Liberation Sans", Arial, sans-serif'>c</text>
<text transform="matrix(0.8 0 0 1 1654.3 2953.7)" font-size="47" text-anchor="middle" font-weight="normal" font-family='"Liberation Sans", Arial, sans-serif'>c</text>
<text transform="matrix(0.8 0 0 1 1765.9 2886.6)" font-size="47" text-anchor="middle" font-weight="normal" font-family='"Liberation Sans", Arial, sans-serif'>b</text>
<text transform="matrix(0.8 0 0 1 1880.6 2915.1)" font-size="47" text-anchor="middle" font-weight="normal" font-family='"Liberation Sans", Arial, sans-serif'>b</text>
<text transform="matrix(0.8 0 0 1 1992.7 2528.6)" font-size="47" text-anchor="middle" font-weight="normal" font-family='"Liberation Sans", Arial, sans-serif'>a</text>
<text transform="matrix(0.8 0 0 1 329.5 627.7)" font-size="60.5" text-anchor="start" font-weight="bold" font-family='"Liberation Sans", Arial, sans-serif'>A</text>
<text transform="matrix(0.8 0 0 1 329.5 1221.6)" font-size="60.5" text-anchor="start" font-weight="bold" font-family='"Liberation Sans", Arial, sans-serif'>B</text>
<text transform="matrix(0.8 0 0 1 325 1810.8)" font-size="60.5" text-anchor="start" font-weight="bold" font-family='"Liberation Sans", Arial, sans-serif'>C</text>
<text transform="matrix(0.8 0 0 1 327.6 2401.6)" font-size="60.5" text-anchor="start" font-weight="bold" font-family='"Liberation Sans", Arial, sans-serif'>D</text>
<text transform="matrix(0.8 0 0 1 332.3 2984.8)" font-size="60.5" text-anchor="start" font-weight="bold" font-family='"Liberation Sans", Arial, sans-serif'>E</text>
<text transform="matrix(0.8 0 0 1 1230.1 634)" font-size="60.5" text-anchor="start" font-weight="bold" font-family='"Liberation Sans", Arial, sans-serif'>F</text>
<text transform="matrix(0.8 0 0 1 1226 1224)" font-size="60.5" text-anchor="start" font-weight="bold" font-family='"Liberation Sans", Arial, sans-serif'>G</text>
<text transform="matrix(0.8 0 0 1 1230 1807.3)" font-size="60.5" text-anchor="start" font-weight="bold" font-family='"Liberation Sans", Arial, sans-serif'>H</text>
<text transform="matrix(0.8 0 0 1 1236.9 2398.6)" font-size="60.5" text-anchor="start" font-weight="bold" font-family='"Liberation Sans", Arial, sans-serif'>I</text>
<text transform="matrix(0.8 0 0 1 1235.5 2989.7)" font-size="60.5" text-anchor="start" font-weight="bold" font-family='"Liberation Sans", Arial, sans-serif'>J</text>
<text transform="translate(159.2 454) rotate(-90)" font-size="40" font-family='"Liberation Sans", Arial, sans-serif' textLength="186" lengthAdjust="spacingAndGlyphs">SWEET1</text>
<text transform="translate(159.1 1039.8) rotate(-90)" font-size="40" font-family='"Liberation Sans", Arial, sans-serif' textLength="189" lengthAdjust="spacingAndGlyphs">SWEET2</text>
<text transform="translate(144 1628.2) rotate(-90)" font-size="40" font-family='"Liberation Sans", Arial, sans-serif' textLength="190.4" lengthAdjust="spacingAndGlyphs">SWEET3</text>
<text transform="translate(159.1 2224.2) rotate(-90)" font-size="40" font-family='"Liberation Sans", Arial, sans-serif' textLength="191.4" lengthAdjust="spacingAndGlyphs">SWEET7</text>
<text transform="translate(183.3 2804.8) rotate(-90)" font-size="40" font-family='"Liberation Sans", Arial, sans-serif' textLength="187.2" lengthAdjust="spacingAndGlyphs">SWEET5</text>
<text transform="translate(56.1 1799.4) rotate(-90)" font-size="40" font-family='"Liberation Sans", Arial, sans-serif' textLength="532.4" lengthAdjust="spacingAndGlyphs">Relative expression levels</text>
<text transform="translate(2294.3 466.4) rotate(-90)" font-size="40" font-family='"Liberation Sans", Arial, sans-serif' textLength="215.6" lengthAdjust="spacingAndGlyphs">SWEET10</text>
<text transform="translate(2279.9 1057.8) rotate(-90)" font-size="40" font-family='"Liberation Sans", Arial, sans-serif' textLength="213.6" lengthAdjust="spacingAndGlyphs">SWEET12</text>
<text transform="translate(2280.9 1641.4) rotate(-90)" font-size="40" font-family='"Liberation Sans", Arial, sans-serif' textLength="212.6" lengthAdjust="spacingAndGlyphs">SWEET14</text>
<text transform="translate(2366 1800.8) rotate(-90)" font-size="40" font-family='"Liberation Sans", Arial, sans-serif' textLength="533.2" lengthAdjust="spacingAndGlyphs">Relative expression levels</text>
<text transform="translate(2308.1 2233.6) rotate(-90)" font-size="40" font-family='"Liberation Sans", Arial, sans-serif' textLength="217.2" lengthAdjust="spacingAndGlyphs">SWEET13</text>
<text transform="translate(2308.1 2807.8) rotate(-90)" font-size="40" font-family='"Liberation Sans", Arial, sans-serif' textLength="191" lengthAdjust="spacingAndGlyphs">SWEET9</text>
<text transform="matrix(0.84 0 0 1 450.6 3053.9) rotate(-30)" font-size="55" font-weight="bold" text-anchor="end" font-family='"Liberation Serif", "Times New Roman", serif'>23DAF</text>
<text transform="matrix(0.84 0 0 1 562.87 3045.35) rotate(-30)" font-size="55" font-weight="bold" text-anchor="end" font-family='"Liberation Serif", "Times New Roman", serif'>43DAF</text>
<text transform="matrix(0.84 0 0 1 678.14 3047.3) rotate(-30)" font-size="55" font-weight="bold" text-anchor="end" font-family='"Liberation Serif", "Times New Roman", serif'>70DAF</text>
<text transform="matrix(0.84 0 0 1 790.91 3060.4) rotate(-30)" font-size="55" font-weight="bold" text-anchor="end" font-family='"Liberation Serif", "Times New Roman", serif'>94DAF</text>
<text transform="matrix(0.84 0 0 1 902.83 3050.25) rotate(-30)" font-size="55" font-weight="bold" text-anchor="end" font-family='"Liberation Serif", "Times New Roman", serif'>112DAF</text>
<text transform="matrix(0.84 0 0 1 1019.5 3057.7) rotate(-30)" font-size="55" font-weight="bold" text-anchor="end" font-family='"Liberation Serif", "Times New Roman", serif'>127DAF</text>
<text transform="matrix(0.84 0 0 1 1125.27 3063.2) rotate(-30)" font-size="55" font-weight="bold" text-anchor="end" font-family='"Liberation Serif", "Times New Roman", serif'>157DAF</text>
<text transform="matrix(0.84 0 0 1 1343.35 3049.8) rotate(-30)" font-size="55" font-weight="bold" text-anchor="end" font-family='"Liberation Serif", "Times New Roman", serif'>23DAF</text>
<text transform="matrix(0.84 0 0 1 1456.15 3042.45) rotate(-30)" font-size="55" font-weight="bold" text-anchor="end" font-family='"Liberation Serif", "Times New Roman", serif'>43DAF</text>
<text transform="matrix(0.84 0 0 1 1570.9 3043.2) rotate(-30)" font-size="55" font-weight="bold" text-anchor="end" font-family='"Liberation Serif", "Times New Roman", serif'>70DAF</text>
<text transform="matrix(0.84 0 0 1 1683.75 3057.1) rotate(-30)" font-size="55" font-weight="bold" text-anchor="end" font-family='"Liberation Serif", "Times New Roman", serif'>94DAF</text>
<text transform="matrix(0.84 0 0 1 1794.15 3053.9) rotate(-30)" font-size="55" font-weight="bold" text-anchor="end" font-family='"Liberation Serif", "Times New Roman", serif'>112DAF</text>
<text transform="matrix(0.84 0 0 1 1905.9 3049.5) rotate(-30)" font-size="55" font-weight="bold" text-anchor="end" font-family='"Liberation Serif", "Times New Roman", serif'>127DAF</text>
<text transform="matrix(0.84 0 0 1 2016.05 3055.5) rotate(-30)" font-size="55" font-weight="bold" text-anchor="end" font-family='"Liberation Serif", "Times New Roman", serif'>157DAF</text>
</svg>
</body></html>
